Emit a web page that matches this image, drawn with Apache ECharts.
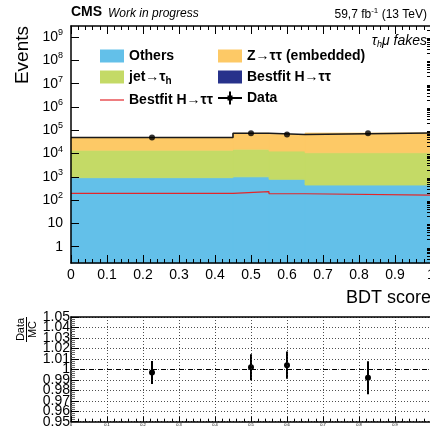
<!DOCTYPE html>
<html>
<head>
<meta charset="utf-8">
<script src="https://cdn.jsdelivr.net/npm/echarts@6/dist/echarts.min.js"></script>
<style>
  html, body { margin: 0; padding: 0; background: #fff; }
  #chart { width: 430px; height: 428px; }
</style>
</head>
<body>
<div id="chart"></div>
<script>
// == Data ====================================================================

const binEdges = [0, 0.45, 0.55, 0.65, 1.0]
const binCenters = [0.225, 0.5, 0.6, 0.825]
const others = [920, 1000, 780, 445]
const jetFakes = [13100, 14500, 12000, 10400]
const zttEmbedded = [35000, 58500, 53000, 65000]
const higgsFit = [195, 230, 188, 165]
const dataObs = [49100, 74400, 66200, 75400]
const ratio = [0.997, 1.002, 1.004, 0.992]
const ratioErr = [0.011, 0.0125, 0.013, 0.0157]
const yDecades = [0, 1, 2, 3, 4, 5, 6, 7, 8, 9]
const ratioEnds = [0.95, 1.05]
const yMin = 0.2
const yMax = 3e9

// == Helpers =================================================================

const lg = Math.log10
const FONT = 'Liberation Sans'

function cumulate(parts) {
  const out = []
  let run = binEdges.slice(1).map(() => 0)
  parts.forEach(p => {
    run = run.map((v, i) => v + p[i])
    out.push(run.slice())
  })
  return out
}

const [cumOthers, cumJet, cumZtt, cumTotal] = cumulate([others, jetFakes, zttEmbedded, higgsFit])

function stackSeries(name, color, lows, highs, seam) {
  const data = highs.map((hi, i) => [binEdges[i], binEdges[i + 1], lows ? lg(lows[i]) : lg(yMin), lg(hi)])
  return {
    type: 'custom', name, xAxisIndex: 0, yAxisIndex: 0,
    itemStyle: { color },
    encode: { x: [0, 1], y: [2, 3] },
    data,
    renderItem (params, api) {
      const a = api.coord([api.value(0), api.value(3)])
      const b = api.coord([api.value(1), api.value(2)])
      return {
        type: 'rect',
        shape: { x: a[0], y: a[1], width: b[0] - a[0], height: b[1] - a[1] },
        // a thin same-colour stroke hides the anti-aliasing seams between bins
        style: seam ? { fill: color, stroke: color, lineWidth: 0.8 } : { fill: color }
      }
    }
  }
}

function stepLine(values) {
  const pts = values.map((v, i) => [binEdges[i], lg(v)])
  pts.push([binEdges[binEdges.length - 1], lg(values[values.length - 1])])
  return pts
}

const minorExp = []
for (let n = -1; n <= 9; n++) {
  for (let k = 2; k <= 9; k++) {
    const e = n + lg(k)
    if (e > lg(yMin) && e < lg(yMax)) minorExp.push(e)
  }
}

const labelNames = {
  'Others': 'Others',
  'Z→ττ (embedded)': 'Z→ττ (embedded)',
  'jet→τh': 'jet→τ{sub|h}',
  'Bestfit H→ττ': 'Bestfit H→ττ',
  'Bestfit H→ττ line': 'Bestfit H→ττ',
  'Data': 'Data'
}

const legendText = {
  color: '#000', fontFamily: FONT, fontWeight: 'bold', fontSize: 14,
  rich: { sub: { fontFamily: FONT, fontWeight: 'bold', fontSize: 10, padding: [8, 0, 0, 0] } }
}

const axisLineStyle = { show: true, onZero: false, lineStyle: { color: '#000', width: 1.5 } }
const ratioLabel = v => String(+v.toFixed(2))

// == Option ==================================================================

const option = {
  animation: false,
  grid: [
    { left: 71, top: 26, width: 360, height: 237, containLabel: false, outerBoundsMode: 'none' },
    { left: 71, top: 317, width: 360, height: 104.7, containLabel: false, outerBoundsMode: 'none' }
  ],
  xAxis: [
    {
      type: 'value', gridIndex: 0, min: 0, max: 1, interval: 0.1, z: 5,
      axisLine: axisLineStyle,
      axisTick: { inside: true, length: 8, lineStyle: { color: '#000' } },
      minorTick: { show: true, splitNumber: 5, length: 4, lineStyle: { color: '#000' } },
      axisLabel: { color: '#000', fontFamily: FONT, fontSize: 14, margin: 5, formatter: v => String(+v.toFixed(1)) },
      splitLine: { show: false }
    },
    {
      type: 'value', gridIndex: 0, position: 'top', min: 0, max: 1, interval: 0.1, z: 5,
      axisLine: axisLineStyle,
      axisTick: { inside: true, length: 8, lineStyle: { color: '#000' } },
      minorTick: { show: true, splitNumber: 5, length: 4, lineStyle: { color: '#000' } },
      axisLabel: { show: false },
      splitLine: { show: false }
    },
    {
      type: 'value', gridIndex: 1, min: 0, max: 1, interval: 0.1, z: 5,
      axisLine: axisLineStyle,
      axisTick: { inside: true, length: 5, lineStyle: { color: '#000' } },
      minorTick: { show: true, splitNumber: 5, length: 3, lineStyle: { color: '#000' } },
      axisLabel: { color: '#000', fontFamily: FONT, fontSize: 4, margin: 1, formatter: v => String(+v.toFixed(1)) },
      splitLine: { show: true, lineStyle: { color: '#222', width: 0.8, type: [1, 2] } }
    },
    {
      type: 'value', gridIndex: 1, position: 'top', min: 0, max: 1, interval: 0.1, z: 5,
      axisLine: axisLineStyle,
      axisTick: { show: false },
      axisLabel: { show: false },
      splitLine: { show: false }
    }
  ],
  yAxis: [
    {
      type: 'value', gridIndex: 0, position: 'left', min: lg(yMin), max: lg(yMax), z: 5,
      axisLine: axisLineStyle,
      axisTick: { inside: true, length: 8, customValues: yDecades, lineStyle: { color: '#000' } },
      axisLabel: {
        customValues: yDecades, color: '#000', fontFamily: FONT, fontSize: 14, margin: 8,
        formatter: v => {
          const n = Math.round(v)
          if (n === 0) return '1'
          if (n === 1) return '10'
          return '10{sup|' + n + '}'
        },
        rich: { sup: { fontFamily: FONT, fontSize: 9, padding: [0, 0, 9, 0] } }
      },
      splitLine: { show: false }
    },
    {
      // right-hand frame with its log minor ticks (sits at the clipped right edge)
      type: 'value', gridIndex: 0, position: 'right', min: lg(yMin), max: lg(yMax), z: 5,
      axisLine: axisLineStyle,
      axisTick: { inside: true, length: 4, customValues: minorExp, lineStyle: { color: '#000' } },
      axisLabel: { show: false },
      splitLine: { show: false }
    },
    {
      type: 'value', gridIndex: 1, position: 'left', min: 0.95, max: 1.05, interval: 0.01, z: 5,
      axisLine: axisLineStyle,
      axisTick: { inside: true, length: 8, lineStyle: { color: '#000' } },
      minorTick: { show: true, splitNumber: 5, length: 4, lineStyle: { color: '#666' } },
      axisLabel: {
        color: '#000', fontFamily: FONT, fontSize: 14, margin: 1, lineHeight: 7,
        showMinLabel: false, showMaxLabel: false,
        formatter: ratioLabel
      },
      splitLine: { show: true, lineStyle: { color: '#222', width: 0.8, type: [1, 2] } }
    },
    {
      // end labels of the ratio axis, kept apart so overlap pruning leaves the inner ones
      type: 'value', gridIndex: 1, position: 'left', min: 0.95, max: 1.05, z: 5,
      axisLine: { show: false },
      axisTick: { show: false },
      axisLabel: {
        customValues: ratioEnds, color: '#000', fontFamily: FONT, fontSize: 14, margin: 1, lineHeight: 7,
        showMinLabel: true, showMaxLabel: true, formatter: ratioLabel
      },
      splitLine: { show: false }
    }
  ],
  legend: [
    {
      orient: 'vertical', left: 95, top: 44, itemWidth: 24, itemHeight: 13, itemGap: 7,
      selectedMode: false, textStyle: legendText, formatter: n => labelNames[n],
      data: [
        { name: 'Others', icon: 'rect' },
        { name: 'jet→τh', icon: 'rect' },
        { name: 'Bestfit H→ττ line', icon: 'path://M0,6h24v1.2h-24z', itemStyle: { color: '#E3262A', borderWidth: 0 } }
      ]
    },
    {
      orient: 'vertical', left: 213, top: 44, itemWidth: 24, itemHeight: 13, itemGap: 7,
      selectedMode: false, textStyle: legendText, formatter: n => labelNames[n],
      data: [
        { name: 'Z→ττ (embedded)', icon: 'rect' },
        { name: 'Bestfit H→ττ', icon: 'rect' },
        {
          name: 'Data',
          icon: 'path://M0,5.5L24,5.5L24,7.5L0,7.5ZM11,0L13,0L13,13L11,13ZM9.5,4L14.5,4L14.5,9L9.5,9Z',
          itemStyle: { color: '#000', borderWidth: 0, opacity: 1 }
        }
      ]
    }
  ],
  graphic: [
    { type: 'text', left: 71, top: 5, style: { text: 'CMS', font: 'bold 14px "Liberation Sans"', fill: '#000' } },
    { type: 'text', left: 108, top: 8, style: { text: 'Work in progress', font: 'italic 12px "Liberation Sans"', fill: '#000' } },
    { type: 'text', right: 3, top: 7, style: { text: '59,7 fb{sup|-1} (13 TeV)', font: '12px "Liberation Sans"', fill: '#000', rich: { sup: { fontFamily: FONT, fontSize: 8, padding: [0, 0, 7, 0] } } } },
    { type: 'text', right: 3, top: 34, style: { text: 'τ{sub|h}μ fakes', font: 'italic 14px "Liberation Sans"', fill: '#000', rich: { sub: { fontFamily: FONT, fontStyle: 'italic', fontSize: 9, padding: [6, 0, 0, 0] } } } },
    { type: 'text', x: 23, y: 26, rotation: Math.PI / 2, style: { text: 'Events', font: '19px "Liberation Sans"', fill: '#000', align: 'right', verticalAlign: 'middle' } },
    { type: 'text', x: 431, y: 298, style: { text: 'BDT score', font: '18px "Liberation Sans"', fill: '#000', align: 'right', verticalAlign: 'middle' } },
    { type: 'text', x: 21, y: 329.5, rotation: Math.PI / 2, style: { text: 'Data', font: '11px "Liberation Sans"', fill: '#000', align: 'center', verticalAlign: 'middle' } },
    { type: 'line', shape: { x1: 26.5, y1: 317, x2: 26.5, y2: 342 }, style: { stroke: '#000', lineWidth: 1 } },
    { type: 'text', x: 32.5, y: 329.5, rotation: Math.PI / 2, style: { text: 'MC', font: '11px "Liberation Sans"', fill: '#000', align: 'center', verticalAlign: 'middle' } }
  ],
  series: [
    stackSeries('Others', '#63C0E9', null, cumOthers, true),
    stackSeries('jet→τh', '#C4DA66', cumOthers, cumJet, true),
    stackSeries('Z→ττ (embedded)', '#FDC966', cumJet, cumZtt, true),
    stackSeries('Bestfit H→ττ', '#27328B', cumZtt, cumTotal, false),
    {
      type: 'line', name: 'Bestfit H→ττ line', xAxisIndex: 0, yAxisIndex: 0, step: 'end',
      symbol: 'none', data: stepLine(higgsFit),
      lineStyle: { color: '#E3262A', width: 1.2 }, itemStyle: { color: '#E3262A' }, z: 3
    },
    {
      type: 'line', name: 'total', xAxisIndex: 0, yAxisIndex: 0, step: 'end',
      symbol: 'none', data: stepLine(cumTotal),
      lineStyle: { color: '#1a1a1a', width: 1.6 }, z: 3
    },
    {
      type: 'scatter', name: 'Data', xAxisIndex: 0, yAxisIndex: 0,
      symbol: 'circle', symbolSize: 6, itemStyle: { color: '#000' }, z: 4,
      data: dataObs.map((v, i) => [binCenters[i], lg(v)])
    },
    {
      type: 'custom', name: 'ratio', xAxisIndex: 2, yAxisIndex: 2, z: 4,
      data: ratio.map((r, i) => [binCenters[i], r, r - ratioErr[i], r + ratioErr[i]]),
      encode: { x: 0, y: [1, 2, 3] },
      renderItem (params, api) {
        const c = api.coord([api.value(0), api.value(1)])
        const lo = api.coord([api.value(0), api.value(2)])
        const hi = api.coord([api.value(0), api.value(3)])
        return {
          type: 'group',
          children: [
            { type: 'line', shape: { x1: c[0], y1: lo[1], x2: c[0], y2: hi[1] }, style: { stroke: '#000', lineWidth: 2 } },
            { type: 'circle', shape: { cx: c[0], cy: c[1], r: 3 }, style: { fill: '#000' } }
          ]
        }
      },
      markLine: {
        silent: true, symbol: 'none', label: { show: false },
        lineStyle: { color: '#000', type: [5, 4], width: 1 },
        data: [{ yAxis: 1 }]
      }
    }
  ]
}

const myChart = echarts.init(document.getElementById('chart'))
myChart.setOption(option)
</script>
</body>
</html>
